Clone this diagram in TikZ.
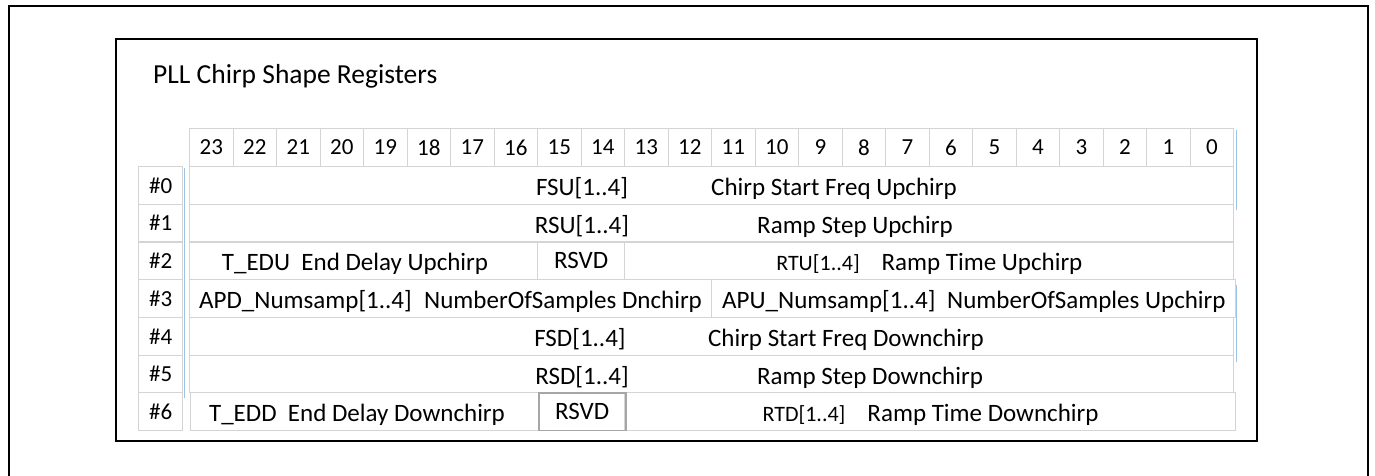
\documentclass[tikz,border=0pt]{standalone}
\usepackage{fontspec}
\setmainfont{Carlito}
\usepackage{tikz}
\definecolor{barblue}{HTML}{9DC3E6}
\definecolor{gridgray}{HTML}{D4D4D4}

\begin{document}
\begin{tikzpicture}[x=1pt, y=-1pt,
  cell/.style={draw=gridgray, line width=1.2pt, minimum height=37.7pt,
               inner sep=0pt, anchor=north west, font=\fontsize{25}{28}\selectfont},
  bit/.style={cell, minimum width=43.5pt, font=\fontsize{23}{26}\selectfont},
  rowlbl/.style={cell, minimum width=44pt, font=\fontsize{23}{26}\selectfont},
  txt/.style={anchor=base, inner sep=0pt, font=\fontsize{25}{28}\selectfont},
  sml/.style={txt, font=\fontsize{22}{25}\selectfont},
  bluebar/.style={draw=barblue, line width=1.3pt}]
\useasboundingbox (0,0) rectangle (1375,475);
% frames
\draw[line width=2pt] (9,478) |- (1368,6) -- (1368,478);
\draw[line width=1.5pt] (116,39) rectangle (1257,441);
\node[anchor=base west, inner sep=0pt, font=\fontsize{27.5}{33}\selectfont] (title) at (153,83) {PLL Chirp Shape Registers};
% bit numbers and register numbers
\foreach \b in {0,...,23}
  \node[bit] (b\b) at ({189+(23-\b)*43.5},128) {\b};
\foreach \r in {0,...,6}
  \node[rowlbl] (l\r) at (138,{166+\r*37.7}) {\#\r};
% register fields
\node[cell, minimum width=1044pt] (fsu) at (189,166) {};
\node[cell, minimum width=1044pt] (rsu) at (189,203.7) {};
\node[cell, minimum width=348pt] (tedu) at (189,241.4) {};
\node[cell, minimum width=87pt] (rsvdu) at (537,241.4) {RSVD};
\node[cell, minimum width=609pt] (rtu) at (624,241.4) {};
\node[cell, minimum width=522pt] (apd) at (189,279.1) {};
\node[cell, minimum width=524pt] (apu) at (711,279.1) {};
\node[cell, minimum width=1044pt] (fsd) at (189,316.8) {};
\node[cell, minimum width=1044pt] (rsd) at (189,354.5) {};
\node[cell, minimum width=348pt] (tedd) at (190,392.2) {};
\node[cell, minimum width=611pt] (rtd) at (624,392.2) {};
\node[cell, draw=black!35, line width=1.5pt, minimum width=87pt] (rsvdd) at (538,392.2) {RSVD};
% field texts
\node[txt] (fsun) at (582,195.5) {FSU[1..4]};
\node[txt] (fsut) at (834,195.5) {Chirp Start Freq Upchirp};
\node[txt] (rsun) at (582,233.2) {RSU[1..4]};
\node[txt] (rsut) at (855,233.2) {Ramp Step Upchirp};
\node[txt] (tedut) at (355,270.9) {T\_EDU~~End Delay Upchirp};
\node[sml] (rtun) at (818,270.9) {RTU[1..4]};
\node[txt] (rtut) at (982,270.9) {Ramp Time Upchirp};
\node[txt, anchor=base west] (apdn) at (199,308.6) {APD\_Numsamp[1..4]};
\node[txt, anchor=base west] (apdt) at (424,308.6) {NumberOfSamples Dnchirp};
\node[txt, anchor=base west] (apun) at (722,308.6) {APU\_Numsamp[1..4]};
\node[txt, anchor=base west] (aput) at (947,308.6) {NumberOfSamples Upchirp};
\node[txt] (fsdn) at (580,346.3) {FSD[1..4]};
\node[txt] (fsdt) at (846,346.3) {Chirp Start Freq Downchirp};
\node[txt] (rsdn) at (582,384) {RSD[1..4]};
\node[txt] (rsdt) at (870,384) {Ramp Step Downchirp};
\node[txt] (teddt) at (357,421.7) {T\_EDD~~End Delay Downchirp};
\node[sml] (rtdn) at (804,421.7) {RTD[1..4]};
\node[txt] (rtdt) at (983,421.7) {Ramp Time Downchirp};
% blue edges
\draw[bluebar] (l0.north east) ++(1,2) -- ++(0,230);
\draw[bluebar] (b0.north east) ++(2,2) -- ++(0,80);
\draw[bluebar] (apu.north east) ++(0,6) -- ++(0,77);
\end{tikzpicture}
\end{document}
